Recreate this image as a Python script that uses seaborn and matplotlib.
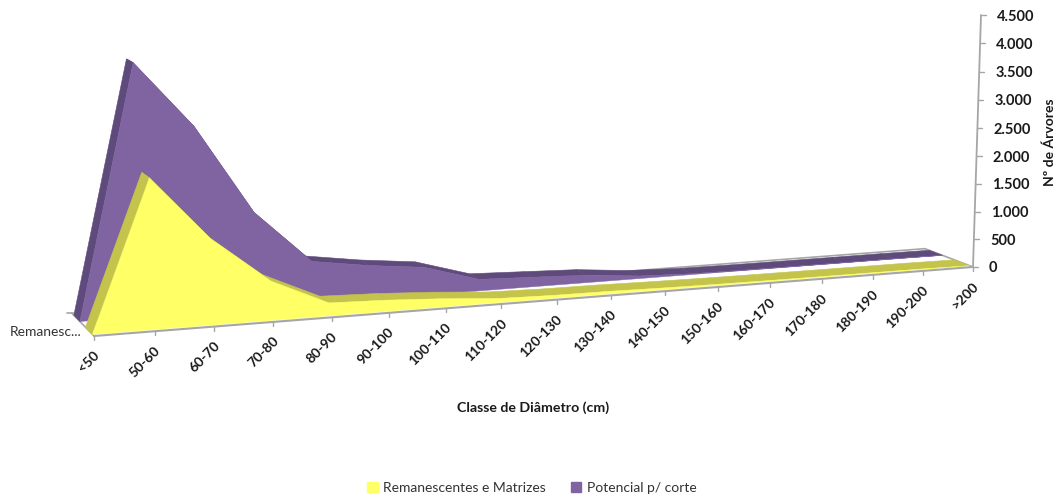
import numpy as np
import pandas as pd
import matplotlib
matplotlib.use("Agg")
import matplotlib.pyplot as plt
from matplotlib.patches import Patch
import seaborn as sns

# Trees per diameter class
classes = ["<50", "50-60", "60-70", "70-80", "80-90", "90-100", "100-110", "110-120",
           "120-130", "130-140", "140-150", "150-160", "160-170", "170-180", "180-190",
           "190-200", ">200"]
remanescentes = [0, 2490, 1427, 660, 218, 190, 140, 70, 50, 45, 30, 20, 15, 12, 10, 8, 0]
potencial = [0, 4225, 3125, 1626, 725, 585, 483, 202, 168, 133, 46, 15, 8, 6, 5, 5, 0]
value_ticks = [0, 500, 1000, 1500, 2000, 2500, 3000, 3500, 4000, 4500]
value_labels = ["0", "500", "1.000", "1.500", "2.000", "2.500", "3.000", "3.500", "4.000", "4.500"]

YELLOW, YELLOW_TOP = "#FFFF66", "#C4C44C"
PURPLE, PURPLE_TOP = "#8064A2", "#5F4A7C"
GREY = "#A6A6A6"
TEXT = "#1A1A1A"

sns.set_theme(style="white")
plt.rcParams["font.family"] = ["Lato", "DejaVu Sans"]

fig = plt.figure(figsize=(10.59, 5.03), dpi=100)
ax = fig.add_axes([0, 0, 1, 1])
ax.set_xlim(0, 1059)
ax.set_ylim(503, 0)
ax.axis("off")


def project(i, depth, value):
    """Perspective projection of (class index, depth 0-1, value) onto the canvas."""
    t = np.asarray(i, dtype=float) / (len(classes) - 1)
    u = np.asarray(value, dtype=float) / 4500.0
    w = 1 + 0.111 * t + 0.0367 * depth - 0.0185 * u
    x = (94 + 987 * t - 19.4 * depth - 9.25 * u) / w
    y = (336 - 39.4 * t - 11.2 * depth - 280.2 * u) / w
    return x, y


def line(xs, ys, color, lw=1.0, zorder=2):
    frame = pd.DataFrame({"x": np.atleast_1d(xs), "y": np.atleast_1d(ys)})
    sns.lineplot(data=frame, x="x", y="y", ax=ax, color=color, linewidth=lw,
                 sort=False, estimator=None, legend=False, zorder=zorder)


n = len(classes)
idx = np.arange(n)
zeros = np.zeros(n)

# Floor outline and the depth axis
x0, y0 = project(idx, 0.0, zeros)
x1, y1 = project(idx, 1.0, zeros)
line(x1, y1, GREY, 1.2, zorder=1)
for k in (0, n - 1):
    xd, yd = project([k, k], np.array([0.0, 1.0]), [0, 0])
    line(xd, yd, GREY, 1.2, zorder=1)
line([x1[0], x1[0] - 5], [y1[0], y1[0]], GREY, 1.2, zorder=1)

# Value axis with its ticks
vx, vy = project(np.full(2, n - 1), 0.0, [0, 4500])
line(vx, vy, GREY, 1.3, zorder=1)
for value, text in zip(value_ticks, value_labels):
    tx, ty = project(n - 1, 0.0, value)
    tx, ty = float(tx), float(ty)
    line([tx, tx + 5], [ty, ty], GREY, 1.0, zorder=1)
    ax.text(tx + 16, ty + 1.5, text, ha="left", va="center", fontsize=10.5, color=TEXT,
            fontweight="bold")


def draw_series(values, near, far, face, top, z):
    """One area band: its sloped top ribbon, then the front wall."""
    values = np.asarray(values, dtype=float)
    xn, yn = project(idx, near, values)
    xf, yf = project(idx, far, values)
    for a in range(n - 1):
        ax.fill([xn[a], xn[a + 1], xf[a + 1], xf[a]], [yn[a], yn[a + 1], yf[a + 1], yf[a]],
                color=top, lw=0.4, zorder=z)
    xb, yb = project(idx, near, zeros)
    ax.fill(np.r_[xn, xb[::-1]], np.r_[yn, yb[::-1]], color=face, lw=0.3, zorder=z + 0.5)


draw_series(potencial, 0.63, 0.91, PURPLE, PURPLE_TOP, 3)
draw_series(remanescentes, 0.07, 0.38, YELLOW, YELLOW_TOP, 4)

# Front axis line, ticks and rotated class labels
line(x0, y0, GREY, 1.5, zorder=5)
for k, label in enumerate(classes):
    tx, ty = float(x0[k]), float(y0[k])
    line([tx, tx], [ty, ty + 4], GREY, 1.0, zorder=5)
    ax.text(tx - 1, ty + 13, label, rotation=45, rotation_mode="anchor", ha="right", va="top",
            fontsize=10, color=TEXT, fontweight="bold")

ax.text(10, 332, "Remanesc...", ha="left", va="center", fontsize=10, color="#333333")
ax.text(533, 408, "Classe de Diâmetro (cm)", ha="center", va="center", fontsize=10.2,
        fontweight="bold", color=TEXT)
ax.text(1050, 142, "Nº de Árvores", rotation=90, ha="center", va="center", fontsize=10,
        fontweight="bold", color=TEXT)

handles = [Patch(color=YELLOW, label="Remanescentes e Matrizes"),
           Patch(color=PURPLE, label="Potencial p/ corte")]
ax.legend(handles=handles, loc="center", bbox_to_anchor=(532 / 1059, 1 - 488 / 503), ncol=2,
          frameon=False, fontsize=10, handlelength=0.75, handleheight=0.75, handletextpad=0.4,
          columnspacing=1.8, labelcolor="#333333")

fig.savefig("out.png", dpi=100, facecolor="white")
